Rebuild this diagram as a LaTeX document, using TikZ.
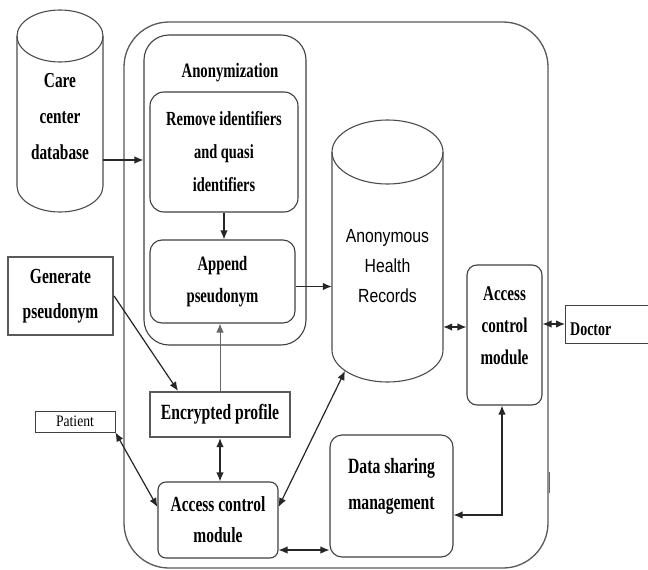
\documentclass[tikz,border=0pt]{standalone}
\usepackage{fontspec}
\setmainfont{Liberation Serif}[FakeStretch=0.72]
\newfontfamily\ahrfont{Liberation Sans}[FakeStretch=0.83]
\newfontfamily\patfont{Liberation Serif}[FakeStretch=0.85]
\usetikzlibrary{arrows.meta,calc}
\tikzset{
  lbl/.style={font=\bfseries\fontsize{20.5}{33}\selectfont, align=center, inner sep=0pt},
  box/.style={draw=black!75, line width=1.1pt, inner sep=0pt},
  rbox/.style={box, rounded corners=12pt},
  thickbox/.style={draw=black!65, line width=2.2pt, inner sep=0pt},
  arr/.style={-{Latex[length=9pt,width=7.5pt]}, line width=1.2pt, draw=black!85},
  darr/.style={{Latex[length=9pt,width=7.5pt]}-{Latex[length=9pt,width=7.5pt]}, line width=1.2pt, draw=black!85},
  cyl/.style={draw=black!70, line width=1.1pt}
}
\begin{document}
\begin{tikzpicture}[x=1pt,y=-1pt]
\useasboundingbox (0,0) rectangle (648,570);
\fill[white] (0,0) rectangle (648,570);

% outer frame
\node[box, draw=black!65, line width=1.3pt, rounded corners=45pt,
      minimum width=424pt, minimum height=546pt] (frame) at (336,295) {};
\draw[black!60, line width=1.5pt] (549.3,472) -- (549.3,493);

% anonymization group
\node[rbox, rounded corners=25pt, minimum width=162pt, minimum height=310pt] (anon) at (225,190) {};
\node[lbl] (anonlbl) at (230,73) {Anonymization};
\node[rbox, rounded corners=14pt, minimum width=148pt, minimum height=120pt, lbl, draw=black!75, font=\bfseries\fontsize{20}{33}\selectfont] (rem) at (224,152) {Remove identifiers\\and quasi\\identifiers};
\node[rbox, minimum width=145pt, minimum height=83pt, lbl, draw=black!75, font=\bfseries\fontsize{20.4}{32}\selectfont] (app) at (222.5,281.5) {Append\\pseudonym};

% care center database cylinder
\draw[cyl] (17,36) -- (17,186) arc[start angle=180, end angle=360, x radius=43pt, y radius=26pt] -- (103,36);
\draw[cyl] (60,36) ellipse [x radius=43pt, y radius=26pt];
\node[minimum width=86pt, minimum height=202pt, inner sep=0pt] (care) at (60,111) {};
\node[lbl, font=\bfseries\fontsize{21.3}{36}\selectfont] (caretxt) at (60,117) {Care\\center\\database};

% anonymous health records cylinder
\draw[cyl] (332,152) -- (332,350) arc[start angle=180, end angle=360, x radius=55.5pt, y radius=32pt] -- (443,152);
\draw[cyl] (387.5,152) ellipse [x radius=55.5pt, y radius=32pt];
\node[minimum width=111pt, minimum height=262pt, inner sep=0pt] (ahr) at (387.5,251) {};
\node[align=center, inner sep=0pt, font=\ahrfont\fontsize{19}{30}\selectfont] (ahrtxt) at (387.5,266) {Anonymous\\Health\\Records};
\coordinate (ahrb) at (345,371);

% left boxes
\node[thickbox, minimum width=105pt, minimum height=78pt, lbl, font=\bfseries\fontsize{21.5}{35}\selectfont] (gen) at (60.5,296) {Generate\\pseudonym};
\node[box, line width=0.8pt, minimum width=80pt, minimum height=21pt, font=\patfont\fontsize{16}{18}\selectfont] (patient) at (75,421.5) {Patient};

\node[thickbox, minimum width=140pt, minimum height=45pt, lbl, font=\bfseries\fontsize{21.7}{24}\selectfont] (enc) at (220,414.5) {Encrypted profile};
\node[rbox, rounded corners=8pt, minimum width=120pt, minimum height=76pt, lbl, draw=black!75, font=\bfseries\fontsize{21.5}{31}\selectfont] (acb) at (218,520) {Access control\\module};

% right boxes
\node[rbox, rounded corners=10pt, minimum width=75pt, minimum height=140pt] (acr) at (504.5,335) {};
\node[lbl, font=\bfseries\fontsize{21}{32}\selectfont] (acrtxt) at (504.5,326) {Access\\control\\module};
\node[rbox, rounded corners=12pt, minimum width=123pt, minimum height=122pt] (dsm) at (391.5,496) {};
\node[lbl, font=\bfseries\fontsize{21.8}{36}\selectfont] (dsmtxt) at (391.5,486) {Data sharing\\management};
\node[box, line width=0.8pt, anchor=west, minimum width=100pt, minimum height=38pt] (doctor) at (565,324) {};
\node[lbl, anchor=west, font=\bfseries\fontsize{19.4}{22}\selectfont] (doctxt) at (570,329) {Doctor};

% connector anchor points
\coordinate (y160) at (0,160);
\coordinate (acbA) at ([yshift=13pt]acb.east);
\coordinate (acbB) at ([yshift=-30pt]acb.east);
\coordinate (acbW) at ([yshift=13pt]acb.west);
\coordinate (appE) at ([yshift=-5pt]app.east);
\coordinate (acrW) at ([yshift=8pt]acr.west);
\coordinate (acrS) at ([xshift=-2.5pt]acr.south);
\coordinate (dsmE) at ([yshift=-19pt]dsm.east);
\coordinate (encT) at ([xshift=-42pt]enc.north);

% connectors
\draw[arr] (care.east |- y160) -- (anon.west |- y160);
\draw[arr] (rem.south) -- (rem.south |- app.north);
\draw[arr] (gen.east) -- (encT);
\draw[arr, line width=0.9pt, draw=black!60] (enc.north) -- (enc.north |- app.south);
\draw[darr] (enc.south) -- (enc.south |- acb.north);
\draw[darr] (patient.south east) -- (acbW);
\draw[darr] (acbA) -- (ahrb);
\draw[darr] (acbB) -- (dsm.west |- acbB);
\draw[arr] (appE) -- (ahr.west |- appE);
\draw[darr] (acrW) -- (ahr.east |- acrW);
\draw[darr] (acr.east |- doctor.west) -- (doctor.west);
\draw[darr] (acrS) |- (dsmE);
\end{tikzpicture}
\end{document}
